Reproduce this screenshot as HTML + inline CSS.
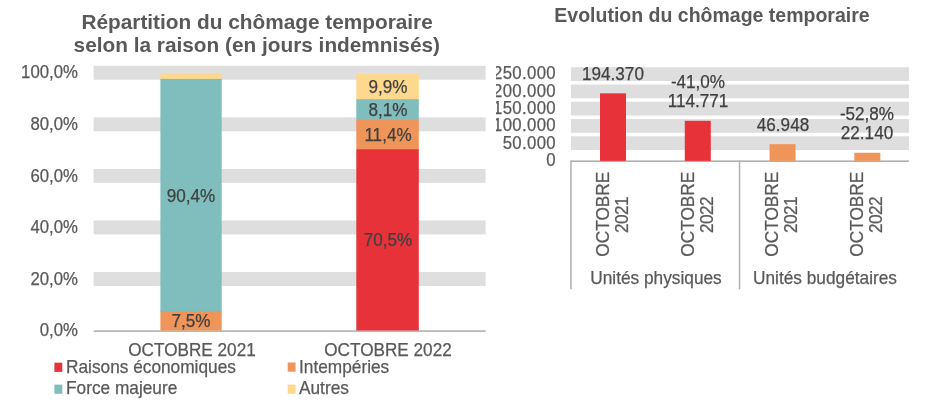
<!DOCTYPE html>
<html><head><meta charset="utf-8"><style>
html,body{margin:0;padding:0;background:#fff;}
#c{position:relative;width:945px;height:412px;overflow:hidden;background:#fff;will-change:transform;}
#c div{position:absolute;}
#r{left:496px;top:0;width:449px;height:412px;overflow:hidden;}
.t{font-family:"Liberation Sans",sans-serif;white-space:nowrap;-webkit-text-stroke:0.25px currentColor;}
</style></head><body><div id="c">
<svg width="945" height="412" viewBox="0 0 945 412" style="position:absolute;left:0;top:0"><rect x="93.60" y="65.85" width="392.00" height="13.90" fill="#DEDEDE"/><rect x="93.60" y="117.40" width="392.00" height="13.90" fill="#DEDEDE"/><rect x="93.60" y="168.95" width="392.00" height="13.90" fill="#DEDEDE"/><rect x="93.60" y="220.50" width="392.00" height="13.90" fill="#DEDEDE"/><rect x="93.60" y="272.05" width="392.00" height="13.90" fill="#DEDEDE"/><rect x="93.60" y="330.30" width="392.00" height="1.60" fill="#B0B0B0"/><rect x="160.40" y="73.50" width="61.30" height="6.40" fill="#FED88E"/><rect x="160.40" y="78.90" width="61.30" height="233.33" fill="#80BDBD"/><rect x="160.40" y="311.23" width="61.30" height="19.27" fill="#F0955A"/><rect x="356.30" y="73.76" width="62.50" height="26.44" fill="#FED88E"/><rect x="356.30" y="99.20" width="62.50" height="21.82" fill="#80BDBD"/><rect x="356.30" y="120.02" width="62.50" height="30.30" fill="#F0955A"/><rect x="356.30" y="149.31" width="62.50" height="181.19" fill="#E63238"/><rect x="54.40" y="362.70" width="7.90" height="9.20" fill="#E63238"/><rect x="287.70" y="362.50" width="7.90" height="9.20" fill="#F0955A"/><rect x="54.40" y="384.60" width="7.90" height="9.20" fill="#80BDBD"/><rect x="287.70" y="384.60" width="7.90" height="9.20" fill="#FED88E"/><rect x="570.90" y="67.25" width="338.00" height="13.80" fill="#DEDEDE"/><rect x="570.90" y="84.50" width="338.00" height="13.80" fill="#DEDEDE"/><rect x="570.90" y="101.75" width="338.00" height="13.80" fill="#DEDEDE"/><rect x="570.90" y="119.00" width="338.00" height="13.80" fill="#DEDEDE"/><rect x="570.90" y="136.25" width="338.00" height="13.80" fill="#DEDEDE"/><rect x="570.90" y="160.40" width="338.00" height="1.60" fill="#B0B0B0"/><rect x="570.20" y="160.40" width="1.50" height="128.90" fill="#B0B0B0"/><rect x="738.80" y="160.40" width="1.50" height="128.90" fill="#B0B0B0"/><rect x="600.00" y="93.34" width="26.00" height="67.56" fill="#E63238"/><rect x="684.78" y="120.80" width="26.00" height="40.10" fill="#E63238"/><rect x="769.56" y="144.20" width="26.00" height="16.70" fill="#F0955A"/><rect x="854.34" y="152.76" width="26.00" height="8.14" fill="#F0955A"/></svg>
<div class="t" style="left:57.10px;width:400px;text-align:center;top:12.49px;font-size:20.8px;line-height:20.8px;color:#595959;font-weight:700;-webkit-text-stroke:0;">Répartition du chômage temporaire</div>
<div class="t" style="left:56.80px;width:400px;text-align:center;top:34.59px;font-size:20.8px;line-height:20.8px;color:#595959;font-weight:700;-webkit-text-stroke:0;">selon la raison (en jours indemnisés)</div>
<div class="t" style="left:-322.40px;width:400px;text-align:right;top:64.41px;font-size:17.472px;line-height:17.472px;color:#595959;transform:scaleX(0.96);transform-origin:100% 50%;">100,0%</div>
<div class="t" style="left:-322.40px;width:400px;text-align:right;top:115.96px;font-size:17.472px;line-height:17.472px;color:#595959;transform:scaleX(0.96);transform-origin:100% 50%;">80,0%</div>
<div class="t" style="left:-322.40px;width:400px;text-align:right;top:167.51px;font-size:17.472px;line-height:17.472px;color:#595959;transform:scaleX(0.96);transform-origin:100% 50%;">60,0%</div>
<div class="t" style="left:-322.40px;width:400px;text-align:right;top:219.06px;font-size:17.472px;line-height:17.472px;color:#595959;transform:scaleX(0.96);transform-origin:100% 50%;">40,0%</div>
<div class="t" style="left:-322.40px;width:400px;text-align:right;top:270.61px;font-size:17.472px;line-height:17.472px;color:#595959;transform:scaleX(0.96);transform-origin:100% 50%;">20,0%</div>
<div class="t" style="left:-322.40px;width:400px;text-align:right;top:322.16px;font-size:17.472px;line-height:17.472px;color:#595959;transform:scaleX(0.96);transform-origin:100% 50%;">0,0%</div>
<div class="t" style="left:-8.95px;width:400px;text-align:center;top:312.43px;font-size:18.0px;line-height:18.0px;color:#404040;transform:scaleX(0.95);transform-origin:50% 50%;">7,5%</div>
<div class="t" style="left:-8.95px;width:400px;text-align:center;top:186.62px;font-size:18.0px;line-height:18.0px;color:#404040;transform:scaleX(0.95);transform-origin:50% 50%;">90,4%</div>
<div class="t" style="left:187.55px;width:400px;text-align:center;top:231.47px;font-size:18.0px;line-height:18.0px;color:#404040;transform:scaleX(0.95);transform-origin:50% 50%;">70,5%</div>
<div class="t" style="left:187.55px;width:400px;text-align:center;top:126.23px;font-size:18.0px;line-height:18.0px;color:#404040;transform:scaleX(0.95);transform-origin:50% 50%;">11,4%</div>
<div class="t" style="left:187.55px;width:400px;text-align:center;top:101.17px;font-size:18.0px;line-height:18.0px;color:#404040;transform:scaleX(0.95);transform-origin:50% 50%;">8,1%</div>
<div class="t" style="left:187.55px;width:400px;text-align:center;top:78.04px;font-size:18.0px;line-height:18.0px;color:#404040;transform:scaleX(0.95);transform-origin:50% 50%;">9,9%</div>
<div class="t" style="left:-8.50px;width:400px;text-align:center;top:341.56px;font-size:17.887999999999998px;line-height:17.887999999999998px;color:#595959;transform:scaleX(0.96);transform-origin:50% 50%;">OCTOBRE 2021</div>
<div class="t" style="left:187.90px;width:400px;text-align:center;top:341.56px;font-size:17.887999999999998px;line-height:17.887999999999998px;color:#595959;transform:scaleX(0.96);transform-origin:50% 50%;">OCTOBRE 2022</div>
<div class="t" style="left:65.80px;width:400px;top:357.97px;font-size:17.992px;line-height:17.992px;color:#595959;transform:scaleX(0.96);transform-origin:0 50%;">Raisons économiques</div>
<div class="t" style="left:298.60px;width:400px;top:357.97px;font-size:17.992px;line-height:17.992px;color:#595959;transform:scaleX(0.96);transform-origin:0 50%;">Intempéries</div>
<div class="t" style="left:65.80px;width:400px;top:379.17px;font-size:17.992px;line-height:17.992px;color:#595959;transform:scaleX(0.96);transform-origin:0 50%;">Force majeure</div>
<div class="t" style="left:298.60px;width:400px;top:379.17px;font-size:17.992px;line-height:17.992px;color:#595959;transform:scaleX(0.96);transform-origin:0 50%;">Autres</div>
<div id="r">
<div class="t" style="left:16.00px;width:400px;text-align:center;top:6.49px;font-size:19.5px;line-height:19.5px;color:#595959;font-weight:700;-webkit-text-stroke:0;">Evolution du chômage temporaire</div>
<div class="t" style="left:-340.30px;width:400px;text-align:right;top:65.21px;font-size:17.472px;line-height:17.472px;color:#595959;transform:scaleX(0.96);transform-origin:100% 50%;letter-spacing:0.35px;">250.000</div>
<div class="t" style="left:-340.30px;width:400px;text-align:right;top:82.61px;font-size:17.472px;line-height:17.472px;color:#595959;transform:scaleX(0.96);transform-origin:100% 50%;letter-spacing:0.35px;">200.000</div>
<div class="t" style="left:-340.30px;width:400px;text-align:right;top:100.01px;font-size:17.472px;line-height:17.472px;color:#595959;transform:scaleX(0.96);transform-origin:100% 50%;letter-spacing:0.35px;">150.000</div>
<div class="t" style="left:-340.30px;width:400px;text-align:right;top:117.41px;font-size:17.472px;line-height:17.472px;color:#595959;transform:scaleX(0.96);transform-origin:100% 50%;letter-spacing:0.35px;">100.000</div>
<div class="t" style="left:-340.30px;width:400px;text-align:right;top:134.81px;font-size:17.472px;line-height:17.472px;color:#595959;transform:scaleX(0.96);transform-origin:100% 50%;letter-spacing:0.35px;">50.000</div>
<div class="t" style="left:-340.30px;width:400px;text-align:right;top:152.21px;font-size:17.472px;line-height:17.472px;color:#595959;transform:scaleX(0.96);transform-origin:100% 50%;letter-spacing:0.35px;">0</div>
<div class="t" style="left:-83.00px;width:400px;text-align:center;top:64.91px;font-size:18.0px;line-height:18.0px;color:#404040;transform:scaleX(0.95);transform-origin:50% 50%;">194.370</div>
<div class="t" style="left:1.78px;width:400px;text-align:center;top:92.37px;font-size:18.0px;line-height:18.0px;color:#404040;transform:scaleX(0.95);transform-origin:50% 50%;">114.771</div>
<div class="t" style="left:1.78px;width:400px;text-align:center;top:73.47px;font-size:18.0px;line-height:18.0px;color:#404040;transform:scaleX(0.95);transform-origin:50% 50%;">-41,0%</div>
<div class="t" style="left:86.56px;width:400px;text-align:center;top:115.77px;font-size:18.0px;line-height:18.0px;color:#404040;transform:scaleX(0.95);transform-origin:50% 50%;">46.948</div>
<div class="t" style="left:171.34px;width:400px;text-align:center;top:124.32px;font-size:18.0px;line-height:18.0px;color:#404040;transform:scaleX(0.95);transform-origin:50% 50%;">22.140</div>
<div class="t" style="left:171.34px;width:400px;text-align:center;top:105.42px;font-size:18.0px;line-height:18.0px;color:#404040;transform:scaleX(0.95);transform-origin:50% 50%;">-52,8%</div>
<div class="t" style="left:17.15px;top:194.80px;width:200px;height:38.4px;line-height:19.2px;text-align:center;font-size:17.992px;color:#595959;transform:rotate(-90deg) scale(0.96,1);transform-origin:100px 19.2px">OCTOBRE<br><span style="letter-spacing:-0.6px;margin-right:1.8px">2021</span></div>
<div class="t" style="left:101.65px;top:194.80px;width:200px;height:38.4px;line-height:19.2px;text-align:center;font-size:17.992px;color:#595959;transform:rotate(-90deg) scale(0.96,1);transform-origin:100px 19.2px">OCTOBRE<br><span style="letter-spacing:-0.6px;margin-right:1.8px">2022</span></div>
<div class="t" style="left:186.15px;top:194.80px;width:200px;height:38.4px;line-height:19.2px;text-align:center;font-size:17.992px;color:#595959;transform:rotate(-90deg) scale(0.96,1);transform-origin:100px 19.2px">OCTOBRE<br><span style="letter-spacing:-0.6px;margin-right:1.8px">2021</span></div>
<div class="t" style="left:270.65px;top:194.80px;width:200px;height:38.4px;line-height:19.2px;text-align:center;font-size:17.992px;color:#595959;transform:rotate(-90deg) scale(0.96,1);transform-origin:100px 19.2px">OCTOBRE<br><span style="letter-spacing:-0.6px;margin-right:1.8px">2022</span></div>
<div class="t" style="left:-40.50px;width:400px;text-align:center;top:268.77px;font-size:17.992px;line-height:17.992px;color:#595959;transform:scaleX(0.96);transform-origin:50% 50%;">Unités physiques</div>
<div class="t" style="left:128.90px;width:400px;text-align:center;top:268.77px;font-size:17.992px;line-height:17.992px;color:#595959;transform:scaleX(0.96);transform-origin:50% 50%;">Unités budgétaires</div>
</div>
</div></body></html>
